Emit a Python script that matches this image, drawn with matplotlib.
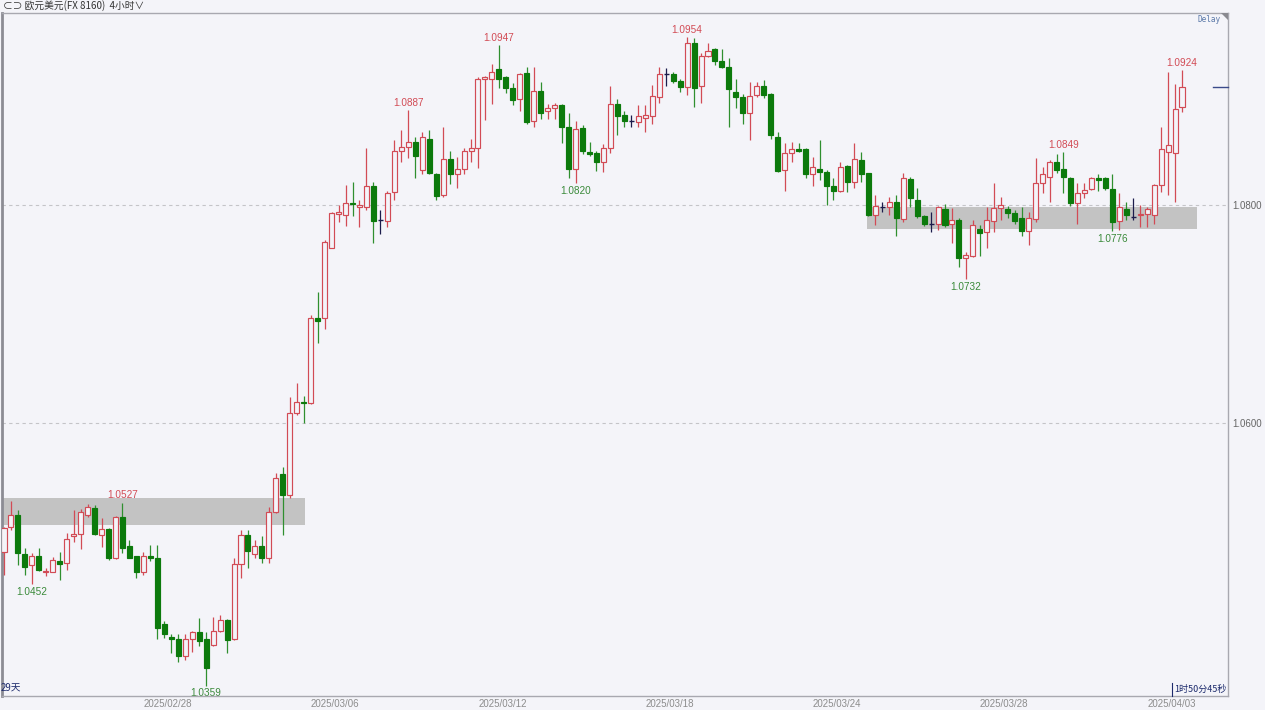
import numpy as np
import matplotlib.pyplot as plt
from matplotlib.patches import Rectangle, Polygon
from matplotlib.lines import Line2D
import matplotlib.transforms as mtransforms

# %%
# EUR/USD 4h candles
opens = [
    1.0482, 1.0505, 1.0516, 1.0480, 1.0470, 1.0478, 1.0463, 1.0463, 1.0473, 1.0472,
    1.0496, 1.0498, 1.0516, 1.0522, 1.0497, 1.0503, 1.0476, 1.0514, 1.0487, 1.0478,
    1.0463, 1.0478, 1.0476, 1.0416, 1.0404, 1.0402, 1.0386, 1.0402, 1.0408, 1.0402,
    1.0396, 1.0409, 1.0419, 1.0402, 1.0471, 1.0497, 1.0480, 1.0487, 1.0476, 1.0518,
    1.0553, 1.0534, 1.0609, 1.0619, 1.0618, 1.0696, 1.0696, 1.0761, 1.0792, 1.0791,
    1.0802, 1.0798, 1.0798, 1.0817, 1.0786, 1.0785, 1.0812, 1.0850, 1.0853, 1.0858,
    1.0832, 1.0861, 1.0828, 1.0809, 1.0842, 1.0828, 1.0833, 1.0850, 1.0852, 1.0916,
    1.0916, 1.0925, 1.0917, 1.0907, 1.0897, 1.0921, 1.0877, 1.0905, 1.0886, 1.0889,
    1.0892, 1.0872, 1.0833, 1.0871, 1.0849, 1.0848, 1.0839, 1.0852, 1.0893, 1.0883,
    1.0877, 1.0876, 1.0880, 1.0882, 1.0899, 1.0920, 1.0920, 1.0914, 1.0908, 1.0949,
    1.0909, 1.0937, 1.0943, 1.0932, 1.0927, 1.0904, 1.0899, 1.0884, 1.0901, 1.0909,
    1.0902, 1.0862, 1.0832, 1.0848, 1.0851, 1.0851, 1.0828, 1.0833, 1.0830, 1.0817,
    1.0813, 1.0836, 1.0821, 1.0841, 1.0829, 1.0791, 1.0798, 1.0798, 1.0803, 1.0787,
    1.0824, 1.0805, 1.0790, 1.0783, 1.0783, 1.0796, 1.0783, 1.0786, 1.0751, 1.0753,
    1.0778, 1.0775, 1.0785, 1.0797, 1.0796, 1.0793, 1.0788, 1.0776, 1.0787, 1.0820,
    1.0826, 1.0839, 1.0833, 1.0825, 1.0802, 1.0811, 1.0815, 1.0825, 1.0825, 1.0815,
    1.0785, 1.0796, 1.0789, 1.0791, 1.0792, 1.0791, 1.0818, 1.0849, 1.0848, 1.0890,
]
highs = [
    1.0505, 1.0528, 1.0520, 1.0485, 1.0481, 1.0485, 1.0467, 1.0477, 1.0482, 1.0499,
    1.0520, 1.0521, 1.0526, 1.0525, 1.0513, 1.0504, 1.0515, 1.0527, 1.0493, 1.0478,
    1.0482, 1.0488, 1.0488, 1.0418, 1.0406, 1.0406, 1.0406, 1.0409, 1.0421, 1.0408,
    1.0422, 1.0424, 1.0420, 1.0476, 1.0502, 1.0502, 1.0493, 1.0496, 1.0523, 1.0554,
    1.0560, 1.0624, 1.0637, 1.0625, 1.0699, 1.0720, 1.0768, 1.0794, 1.0800, 1.0818,
    1.0821, 1.0805, 1.0852, 1.0821, 1.0795, 1.0813, 1.0860, 1.0869, 1.0887, 1.0862,
    1.0867, 1.0869, 1.0829, 1.0872, 1.0850, 1.0844, 1.0852, 1.0861, 1.0917, 1.0918,
    1.0929, 1.0947, 1.0918, 1.0912, 1.0921, 1.0927, 1.0927, 1.0913, 1.0893, 1.0894,
    1.0893, 1.0884, 1.0877, 1.0873, 1.0858, 1.0850, 1.0856, 1.0909, 1.0897, 1.0886,
    1.0883, 1.0892, 1.0892, 1.0910, 1.0927, 1.0926, 1.0922, 1.0916, 1.0954, 1.0953,
    1.0939, 1.0949, 1.0944, 1.0943, 1.0935, 1.0916, 1.0902, 1.0913, 1.0913, 1.0915,
    1.0903, 1.0867, 1.0857, 1.0858, 1.0857, 1.0852, 1.0844, 1.0860, 1.0832, 1.0825,
    1.0839, 1.0837, 1.0857, 1.0849, 1.0829, 1.0809, 1.0803, 1.0807, 1.0809, 1.0829,
    1.0826, 1.0816, 1.0791, 1.0794, 1.0799, 1.0801, 1.0797, 1.0788, 1.0757, 1.0786,
    1.0782, 1.0798, 1.0820, 1.0807, 1.0799, 1.0795, 1.0798, 1.0794, 1.0843, 1.0835,
    1.0841, 1.0847, 1.0849, 1.0826, 1.0820, 1.0820, 1.0826, 1.0828, 1.0826, 1.0828,
    1.0811, 1.0803, 1.0806, 1.0800, 1.0798, 1.0819, 1.0872, 1.0922, 1.0911, 1.0924,
]
lows = [
    1.0461, 1.0502, 1.0470, 1.0461, 1.0452, 1.0464, 1.0460, 1.0463, 1.0456, 1.0465,
    1.0491, 1.0484, 1.0514, 1.0497, 1.0486, 1.0474, 1.0475, 1.0481, 1.0476, 1.0458,
    1.0461, 1.0473, 1.0402, 1.0403, 1.0389, 1.0381, 1.0383, 1.0390, 1.0395, 1.0359,
    1.0395, 1.0408, 1.0389, 1.0401, 1.0458, 1.0467, 1.0476, 1.0472, 1.0472, 1.0517,
    1.0497, 1.0531, 1.0607, 1.0600, 1.0617, 1.0673, 1.0686, 1.0761, 1.0784, 1.0781,
    1.0790, 1.0780, 1.0795, 1.0765, 1.0773, 1.0780, 1.0805, 1.0839, 1.0843, 1.0825,
    1.0828, 1.0828, 1.0805, 1.0807, 1.0819, 1.0816, 1.0828, 1.0839, 1.0834, 1.0878,
    1.0893, 1.0907, 1.0903, 1.0892, 1.0886, 1.0874, 1.0872, 1.0879, 1.0879, 1.0879,
    1.0857, 1.0825, 1.0820, 1.0847, 1.0845, 1.0831, 1.0830, 1.0848, 1.0864, 1.0872,
    1.0872, 1.0872, 1.0867, 1.0874, 1.0894, 1.0909, 1.0912, 1.0904, 1.0901, 1.0890,
    1.0894, 1.0936, 1.0928, 1.0926, 1.0872, 1.0889, 1.0874, 1.0860, 1.0899, 1.0898,
    1.0861, 1.0830, 1.0813, 1.0839, 1.0849, 1.0825, 1.0817, 1.0823, 1.0800, 1.0805,
    1.0812, 1.0812, 1.0816, 1.0821, 1.0790, 1.0782, 1.0794, 1.0791, 1.0772, 1.0784,
    1.0798, 1.0788, 1.0781, 1.0775, 1.0777, 1.0780, 1.0765, 1.0743, 1.0732, 1.0752,
    1.0753, 1.0761, 1.0775, 1.0786, 1.0788, 1.0783, 1.0772, 1.0763, 1.0784, 1.0811,
    1.0803, 1.0829, 1.0811, 1.0799, 1.0783, 1.0806, 1.0814, 1.0813, 1.0814, 1.0776,
    1.0777, 1.0786, 1.0786, 1.0780, 1.0780, 1.0783, 1.0812, 1.0809, 1.0803, 1.0885,
]
closes = [
    1.0504, 1.0516, 1.0481, 1.0468, 1.0478, 1.0465, 1.0464, 1.0474, 1.0471, 1.0494,
    1.0498, 1.0518, 1.0523, 1.0498, 1.0503, 1.0476, 1.0514, 1.0485, 1.0476, 1.0463,
    1.0478, 1.0476, 1.0412, 1.0406, 1.0402, 1.0386, 1.0402, 1.0408, 1.0400, 1.0375,
    1.0409, 1.0419, 1.0401, 1.0471, 1.0497, 1.0483, 1.0487, 1.0476, 1.0518, 1.0550,
    1.0534, 1.0609, 1.0619, 1.0618, 1.0696, 1.0694, 1.0766, 1.0793, 1.0794, 1.0802,
    1.0801, 1.0800, 1.0817, 1.0785, 1.0786, 1.0811, 1.0850, 1.0853, 1.0858, 1.0845,
    1.0862, 1.0829, 1.0808, 1.0842, 1.0828, 1.0833, 1.0850, 1.0852, 1.0916, 1.0917,
    1.0922, 1.0916, 1.0907, 1.0896, 1.0920, 1.0876, 1.0905, 1.0884, 1.0889, 1.0892,
    1.0872, 1.0833, 1.0870, 1.0850, 1.0847, 1.0839, 1.0852, 1.0893, 1.0882, 1.0877,
    1.0877, 1.0882, 1.0883, 1.0900, 1.0920, 1.0920, 1.0914, 1.0908, 1.0949, 1.0907,
    1.0937, 1.0941, 1.0932, 1.0927, 1.0906, 1.0899, 1.0884, 1.0900, 1.0909, 1.0901,
    1.0864, 1.0831, 1.0848, 1.0851, 1.0850, 1.0828, 1.0835, 1.0830, 1.0817, 1.0813,
    1.0835, 1.0821, 1.0842, 1.0828, 1.0791, 1.0799, 1.0798, 1.0803, 1.0788, 1.0825,
    1.0806, 1.0790, 1.0783, 1.0783, 1.0798, 1.0782, 1.0786, 1.0751, 1.0754, 1.0782,
    1.0774, 1.0786, 1.0797, 1.0800, 1.0793, 1.0785, 1.0776, 1.0788, 1.0820, 1.0828,
    1.0839, 1.0832, 1.0826, 1.0802, 1.0811, 1.0814, 1.0825, 1.0823, 1.0816, 1.0784,
    1.0798, 1.0791, 1.0789, 1.0792, 1.0796, 1.0818, 1.0851, 1.0855, 1.0888, 1.0908,
]

date_labels = ['2025/02/28', '2025/03/06', '2025/03/12', '2025/03/18',
               '2025/03/24', '2025/03/28', '2025/04/03']
date_idx = [23.5, 47.5, 71.5, 95.5, 119.5, 143.5, 167.5]

price_ticks = [1.06, 1.08]

# candles whose high / low gets a value tag
high_marks = [17, 58, 71, 98, 152, 169]
low_marks = [4, 29, 82, 138, 159]

# support/resistance boxes: first candle, last candle, low, high
zones = [(-0.5, 43.2, 1.0506, 1.0531), (123.8, 171.2, 1.0778, 1.0798)]

# %%
bg = '#f4f4f9'
up = '#d24b55'
down = '#0c7a0c'
down_wick = '#2f8f2f'
flat = '#1c1c4c'
W, H = 1265, 710

o = np.array(opens)
h = np.array(highs)
l = np.array(lows)
c = np.array(closes)
n = len(o)

fig = plt.figure(figsize=(W / 100, H / 100), dpi=100, facecolor=bg)
ax = fig.add_axes([2 / W, 14 / H, 1226 / W, 683 / H])
ax.set_facecolor(bg)

for i in range(n):
    if c[i] > o[i]:
        edge, face, wick = up, bg, up
    elif c[i] < o[i]:
        edge, face, wick = down, down, down_wick
    else:
        edge, face, wick = flat, flat, flat
    ax.vlines(i, l[i], h[i], color=wick, lw=0.9, zorder=3)
    if c[i] == o[i]:
        ax.hlines(c[i], i - 0.36, i + 0.36, color=flat, lw=1.0, zorder=4)
    else:
        ax.bar(i, abs(c[i] - o[i]), bottom=min(o[i], c[i]), width=0.72,
               facecolor=face, edgecolor=edge, lw=0.85, zorder=4)

for x0, x1, lo, hi in zones:
    ax.add_patch(Rectangle((x0, lo), x1 - x0, hi - lo, facecolor='#c3c3c3',
                           edgecolor='none', zorder=2))

for p in price_ticks:
    ax.axhline(p, color='#c4c4c8', ls=(0, (3, 3)), lw=0.8, zorder=1)

lab_font = dict(family='Liberation Sans', fontsize=7.2)
for i in high_marks:
    ax.annotate(f'{h[i]:.4f}', (i, h[i]), xytext=(0, 1.5), textcoords='offset points',
                ha='center', va='bottom', color=up, zorder=1.5, **lab_font)
for i in low_marks:
    ax.annotate(f'{l[i]:.4f}', (i, l[i]), xytext=(0, -2), textcoords='offset points',
                ha='center', va='top', color='#3a8a3a', zorder=1.5, **lab_font)

ax.set_xlim(-0.287, 175.6)
ax.set_ylim(1.034954, 1.097615)

ax.yaxis.tick_right()
ax.set_yticks(price_ticks)
ax.set_yticklabels([f'{p:.4f}' for p in price_ticks])
ax.set_xticks(date_idx)
ax.set_xticklabels(date_labels)
ax.tick_params(length=0, colors='#666666', labelsize=7, pad=3)
ax.tick_params(axis='x', colors='#8c8c8c', pad=2)
for t in ax.get_xticklabels() + ax.get_yticklabels():
    t.set_family('Liberation Sans')
for s in ax.spines.values():
    s.set_color('#a8a8b0')
    s.set_linewidth(1.0)
ax.spines['left'].set_color('#8c8c94')
ax.spines['left'].set_linewidth(2)

# last price marker at right edge
blend = mtransforms.blended_transform_factory(ax.transAxes, ax.transData)
ax.plot([0.9878, 1.0], [c[-1], c[-1]], transform=blend, color='#3a4a8a',
        lw=1.0, clip_on=False, zorder=5)

cjk = ['Noto Sans CJK SC', 'DejaVu Sans']
fig.text(3 / W, 1 - 6 / H, '⊂⊃ 欧元美元(FX 8160)  4小时∨', family=cjk,
         fontsize=7, va='center', ha='left', color='#333333')
fig.text(1221 / W, 1 - 19 / H, 'Delay', family='DejaVu Sans Mono',
         fontsize=5.6, va='center', ha='right', color='#5a78a8')
fig.add_artist(Polygon([(1221 / W, 1 - 13 / H), (1228 / W, 1 - 13 / H),
                        (1228 / W, 1 - 20 / H)], closed=True,
                       transform=fig.transFigure, facecolor='#8a8a90',
                       edgecolor='none'))
fig.text(1 / W, 1 - 688 / H, '29天', family=cjk, fontsize=7,
         va='center', ha='left', color='#1c2a6c')
fig.text(1174 / W, 1 - 689 / H, '1时50分45秒', family=cjk, fontsize=6.5,
         va='center', ha='left', color='#1c2a6c')
fig.add_artist(Line2D([1172 / W, 1172 / W], [1 - 683 / H, 1 - 696 / H],
                      transform=fig.transFigure, color='#1c2a6c', lw=0.8))

fig.savefig('out.png', dpi=100, facecolor=bg)
